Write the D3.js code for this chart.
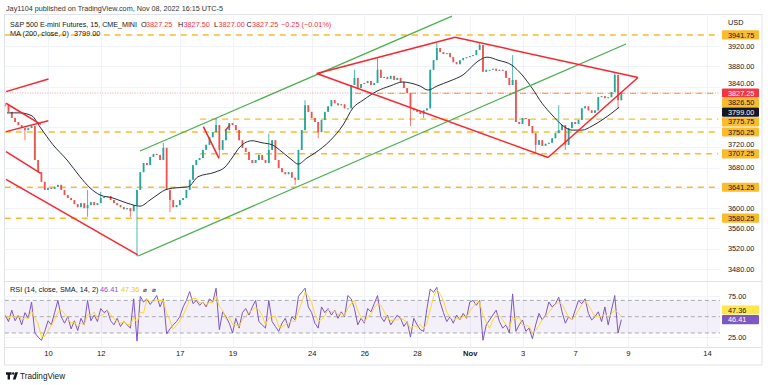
<!DOCTYPE html>
<html><head><meta charset="utf-8">
<script src="https://cdn.jsdelivr.net/npm/d3@7"></script>
<style>
body{margin:0;background:#fff}
svg{display:block;font-family:"Liberation Sans",Arial,sans-serif}
</style>
</head><body>
<svg id="c" width="768" height="385"></svg>
<script>
// ---------------- DATA ----------------
const startDay = -1.625, barStep = 0.125; // trading-day index (Oct 10 = 0), 3h buckets
const closes = [
3803,3790,3778,3770,3764,3758,3754,3758,3762,3695,
3671,3652,3636,3640,3638,3642,3646,3636,3626,3620,
3616,3608,3602,3610,3600,3606,3612,3606,3610,3620,
3622,3624,3616,3610,3606,3602,3598,3600,3594,3606,
3636,3671,3689,3685,3701,3707,3705,3695,3719,3636,
3616,3602,3606,3616,3620,3636,3656,3685,3695,3699,
3715,3725,3740,3750,3764,3715,3734,3754,3768,3764,
3754,3734,3719,3711,3695,3689,3695,3705,3695,3689,
3715,3734,3695,3679,3671,3667,3671,3660,3656,3715,
3754,3803,3790,3778,3770,3750,3774,3790,3801,3813,
3807,3803,3805,3797,3797,3843,3857,3837,3845,3847,
3851,3843,3847,3873,3857,3859,3855,3861,3853,3857,
3849,3837,3827,3797,3793,3790,3786,3793,3797,3873,
3892,3916,3908,3904,3906,3898,3888,3884,3892,3896,
3898,3900,3902,3912,3922,3869,3873,3873,3875,3871,
3873,3871,3857,3843,3853,3770,3766,3778,3776,3762,
3748,3725,3734,3723,3727,3729,3738,3748,3754,3764,
3725,3758,3770,3766,3774,3797,3801,3793,3788,3793,
3819,3821,3817,3819,3829,3863,3813,3827.25
];
// [day, high, low] extreme wicks
const spikes = [
[-1.625,3807,null],[-0.875,null,3734],[1.5,3636,3583],[2.0,3632,null],[3.125,null,3583],
[3.375,null,3505],[4.375,3729,null],[4.625,null,3592],[6.375,3778,null],[6.5,null,3701],
[8.375,3747,null],[9.375,null,3646],[9.75,3813,null],[10.25,null,3738],[11.625,3873,null],
[12.5,3896,null],[13.75,null,3762],[14.25,null,3778],[14.75,3926,null],[16.375,3926,null],
[17.625,3902,null],[18.5,null,3709],[19.375,3803,null],[19.625,null,3715],[21.5,3867,null],
[21.625,null,3797]
];
const maDays = [-1.556,-1.062,-0.607,-0.303,0.190,0.721,1.214,1.593,1.973,2.466,2.997,3.490,3.869,4.249,4.439,4.818,5.311,5.690,6.335,6.715,6.980,7.284,7.739,8.118,8.498,8.877,9.256,9.484,9.825,10.129,10.698,11.191,11.571,11.950,12.481,12.974,13.467,13.733,14.112,14.416,14.757,15.250,15.744,16.313,16.654,17.071,17.602,17.982,18.361,18.741,19.120,19.499,19.879,20.258,20.637,21.017,21.396,21.662];
const maValues = [3788,3788,3782,3760,3725,3695,3662,3640,3626,3620,3610,3604,3616,3630,3636,3640,3642,3662,3671,3681,3699,3721,3733,3729,3725,3711,3695,3687,3699,3709,3733,3764,3798,3813,3831,3841,3849,3847,3841,3833,3841,3851,3863,3890,3898,3892,3882,3863,3837,3807,3784,3764,3754,3754,3762,3774,3788,3799];
const rsiValues = [
52,44,58,45,52,40,55,48,68,30,
25,21,32,45,40,55,70,50,42,50,
35,45,33,48,40,70,45,52,44,60,
55,58,45,40,48,38,44,40,36,72,
20,75,68,72,65,70,76,62,72,29,
35,40,44,50,62,70,81,66,70,64,
68,62,72,68,85,34,56,50,42,30,
48,36,55,60,52,62,70,44,40,36,
70,44,38,32,42,48,36,50,46,75,
80,85,62,55,42,36,62,55,60,52,
58,48,56,50,76,72,60,40,48,42,
60,56,66,76,50,44,52,40,46,52,
48,38,44,25,48,40,34,32,60,84,
80,86,68,55,44,50,42,52,46,54,
48,68,70,64,70,21,40,46,52,58,
44,36,40,30,78,32,40,46,32,36,
23,40,54,46,52,68,62,66,74,56,
42,50,46,58,70,66,72,54,46,50,
56,44,62,40,58,76,30,46.41
];
const timeTickDays = [0,2,5,7,10,12,14,16,18,20,22,25];
const timeTickLabels = ["10","12","17","19","24","26","28","Nov","3","7","9","14"];
const priceTicks = [3480,3520,3560,3600,3640,3680,3720,3760,3800,3840,3880,3920];
const rsiTicks = [25,50,75];
const levelPrices = [3941.75,3826.50,3775.75,3750.25,3707.25,3641.25,3580.25];
const levelStartDays = [-1.64,11.65,5.77,-1.64,5.77,-1.64,-1.64];
const redLines = [
[[-1.593,3830],[0.019,3855]],
[[-1.593,3807],[-0.277,3765.5]],
[[-1.593,3751],[0.011,3772.6]],
[[-1.593,3711.5],[-0.277,3668.8]],
[[-1.593,3657],[3.403,3508]],
[[5.892,3760.8],[6.487,3698.4]],
[[6.715,3752.9],[6.904,3764.1]],
[[10.193,3865.7],[15.440,3937.2]],
[[15.440,3937.2],[22.382,3857.8]],
[[10.193,3865.7],[18.968,3700]],
[[18.968,3700],[22.382,3857.8]]
];
const greenLines = [
[[3.490,3712.8],[15.326,3979]],
[[3.414,3505.6],[21.927,3923.9]]
];
const lastPrice = 3827.25, maLast = 3799.00, rsiLast = 46.41, rsiSmaLast = 47.36;
const ohlc = [["O","3827.25"],["H","3827.50"],["L","3827.00"],["C","3827.25"]];
const changeText = "\u22120.25 (\u22120.01%)";

// ---------------- SETUP ----------------
const svg = d3.select("#c");
const L = 4.8, R = 720.2, T = 14, MB = 281, RT = 282, RB = 347;
const x = d3.scaleLinear().domain([-1.64,25.5]).range([L,R]);
const y = d3.scaleLinear().domain([3456.3,3983.1]).range([MB,T]);
const yr = d3.scaleLinear().domain([12.8,92.6]).range([RB,RT]);

const defs = svg.append("defs");
defs.append("clipPath").attr("id","cm").append("rect").attr("x",L).attr("y",T).attr("width",R-L).attr("height",MB-T);
defs.append("clipPath").attr("id","cr").append("rect").attr("x",L).attr("y",RT).attr("width",R-L).attr("height",RB-RT);

// frame
svg.append("rect").attr("x",4.5).attr("y",14.5).attr("width",757.5).attr("height",350.5)
  .attr("fill","none").attr("stroke","#e0e3eb").attr("stroke-width",1);

// grid
const grid = svg.append("g").attr("stroke","#f0f3fa").attr("stroke-width",1);
grid.selectAll(".hg").data(priceTicks).join("line")
  .attr("x1",L).attr("x2",R).attr("y1",d=>Math.round(y(d))+0.5).attr("y2",d=>Math.round(y(d))+0.5);
grid.selectAll(".vg").data(timeTickDays).join("line")
  .attr("y1",T).attr("y2",RB).attr("x1",d=>Math.round(x(d))+0.5).attr("x2",d=>Math.round(x(d))+0.5);
grid.selectAll(".rg").data([75,25]).join("line")
  .attr("x1",L).attr("x2",R).attr("y1",d=>Math.round(yr(d))+0.5).attr("y2",d=>Math.round(yr(d))+0.5);

// separators
svg.append("line").attr("x1",4.5).attr("x2",762).attr("y1",281.5).attr("y2",281.5).attr("stroke","#e0e3eb");
svg.append("line").attr("x1",4.5).attr("x2",762).attr("y1",347.5).attr("y2",347.5).attr("stroke","#e0e3eb");

// ---------------- MAIN PANE ----------------
const main = svg.append("g").attr("clip-path","url(#cm)");

// horizontal levels
main.selectAll(".lvl").data(levelPrices).join("line")
  .attr("x1",(d,i)=>x(levelStartDays[i])).attr("x2",R-2)
  .attr("y1",d=>y(d)).attr("y2",d=>y(d))
  .attr("stroke","#f9bc2f").attr("stroke-width",1.4).attr("stroke-dasharray","6,5");

// last price dotted line
main.append("line").attr("x1",L).attr("x2",R).attr("y1",y(lastPrice)).attr("y2",y(lastPrice))
  .attr("stroke","#f23645").attr("stroke-width",0.8).attr("stroke-dasharray","1,1.5").attr("opacity",0.6);

// bars
const bars = closes.map((c,i)=>({d:startDay+i*barStep,c,o:i?closes[i-1]:c,h:-Infinity,l:Infinity}));
spikes.forEach(([d,hi,lo])=>{
  const i=Math.round((d-startDay)/barStep);
  if(bars[i]){ if(hi!=null) bars[i].h=hi; if(lo!=null) bars[i].l=lo; }
});
bars.forEach(b=>{b.h=Math.max(b.h,b.o,b.c); b.l=Math.min(b.l,b.o,b.c); b.up=b.c>=b.o;});
const upC="#26a69a", dnC="#ef5350";
main.selectAll(".wk").data(bars).join("line")
  .attr("x1",b=>x(b.d)).attr("x2",b=>x(b.d)).attr("y1",b=>y(b.h)).attr("y2",b=>y(b.l))
  .attr("stroke",b=>b.up?upC:dnC).attr("stroke-width",0.8);
main.selectAll(".bd").data(bars).join("rect")
  .attr("x",b=>x(b.d)-0.9).attr("width",1.8)
  .attr("y",b=>Math.min(y(b.o),y(b.c)))
  .attr("height",b=>Math.max(1,Math.abs(y(b.o)-y(b.c))))
  .attr("fill",b=>b.up?upC:dnC);

// MA
const maPts = maDays.map((d,i)=>[d,maValues[i]]);
main.append("path").datum(maPts)
  .attr("d",d3.line().x(p=>x(p[0])).y(p=>y(p[1])).curve(d3.curveMonotoneX))
  .attr("fill","none").attr("stroke","#2a2e39").attr("stroke-width",1);

// trend lines
const seg = d3.line().x(p=>x(p[0])).y(p=>y(p[1]));
main.selectAll(".gl").data(greenLines).join("path").attr("d",seg)
  .attr("fill","none").attr("stroke","#4caf50").attr("stroke-width",1.3);
main.selectAll(".rl").data(redLines).join("path").attr("d",seg)
  .attr("fill","none").attr("stroke","#f7262e").attr("stroke-width",1.5);

// ---------------- RSI PANE ----------------
const rp = svg.append("g").attr("clip-path","url(#cr)");
rp.append("rect").attr("x",L).attr("width",R-L).attr("y",yr(70)).attr("height",yr(30)-yr(70))
  .attr("fill","#7e57c2").attr("fill-opacity",0.09);
rp.selectAll(".rb").data([70,50,30]).join("line")
  .attr("x1",L).attr("x2",R).attr("y1",d=>yr(d)).attr("y2",d=>yr(d))
  .attr("stroke","#9598a1").attr("stroke-width",0.8).attr("stroke-dasharray","4,3");
const rsiPts = rsiValues.map((v,i)=>[startDay+i*barStep,v]);
const smaPts = rsiPts.map((p,i)=>{const w=rsiValues.slice(Math.max(0,i-2),i+1);return [p[0],d3.mean(w)];});
const rl = d3.line().x(p=>x(p[0])).y(p=>yr(p[1]));
rp.append("path").datum(rsiPts).attr("d",rl).attr("fill","none").attr("stroke","#7e57c2").attr("stroke-width",1);
rp.append("path").datum(smaPts).attr("d",rl).attr("fill","none").attr("stroke","#fdd835").attr("stroke-width",1);

// ---------------- AXES ----------------
const fs = 7.3;
function placeBadges(items, primaryIdx, h){
  const prim = items[primaryIdx];
  const below = items.filter(b=>b!==prim && b.y>=prim.y).sort((a,b)=>a.y-b.y);
  const above = items.filter(b=>b!==prim && b.y<prim.y).sort((a,b)=>b.y-a.y);
  let cur = prim.y;
  below.forEach(b=>{ if(b.y<cur+h) b.y=cur+h; cur=b.y; });
  cur = prim.y;
  above.forEach(b=>{ if(b.y>cur-h) b.y=cur-h; cur=b.y; });
  return items;
}
const priceBadges = [
  {v:lastPrice, bg:"#f23645", fg:"#fff"},
  ...levelPrices.map(v=>({v, bg:"#f9bc2f", fg:"#131722"})),
  {v:maLast, bg:"#131722", fg:"#fff"}
].map(b=>({...b,y:y(b.v)}));
placeBadges(priceBadges,0,9.6);
const rsiBadges = [
  {v:rsiLast,bg:"#7e57c2",fg:"#fff"},
  {v:rsiSmaLast,bg:"#fde74c",fg:"#131722"}
].map(b=>({...b,y:yr(b.v)}));
placeBadges(rsiBadges,0,9.6);

// axis label layout: hide labels under a badge, nudge labels that touch one
function labelY(py, badgeYs){
  let nearest = null;
  badgeYs.forEach(by=>{ if(nearest===null || Math.abs(by-py)<Math.abs(nearest-py)) nearest=by; });
  if(nearest===null) return {show:true,y:py};
  const dist = Math.abs(nearest-py);
  if(dist<6) return {show:false,y:py};
  if(dist<9.6) return {show:true,y: py<nearest ? nearest-9.6 : nearest+9.6};
  return {show:true,y:py};
}
function drawAxisLabels(ticks, scale, badgeYs){
  const g = svg.append("g");
  ticks.forEach(t=>{
    const r = labelY(scale(t), badgeYs);
    if(!r.show) return;
    g.append("text").attr("x",728).attr("y",r.y+2.6).attr("font-size",fs).attr("fill","#131722").text(d3.format(".2f")(t));
  });
}
drawAxisLabels(priceTicks, y, priceBadges.map(b=>b.y));
drawAxisLabels(rsiTicks, yr, rsiBadges.map(b=>b.y));

function drawBadges(list){
  const g = svg.append("g");
  list.forEach(b=>{
    g.append("rect").attr("x",722).attr("y",b.y-4.6).attr("width",37).attr("height",9.2).attr("rx",1).attr("fill",b.bg);
    g.append("text").attr("x",728).attr("y",b.y+2.6).attr("font-size",fs).attr("fill",b.fg).text(b.v.toFixed(2));
  });
}
drawBadges(priceBadges);
drawBadges(rsiBadges);

svg.append("text").attr("x",728).attr("y",24.5).attr("font-size",fs).attr("fill","#131722").text("USD");

// time axis
const xa = svg.append("g").attr("transform","translate(0,351)")
  .call(d3.axisBottom(x).tickValues(timeTickDays).tickFormat((d,i)=>timeTickLabels[i]).tickSize(0).tickPadding(0));
xa.select(".domain").remove();
xa.selectAll("text").attr("font-size",7.6).attr("fill","#131722").attr("font-family","Liberation Sans, Arial, sans-serif")
  .attr("dy","0.71em").attr("font-weight",(d,i)=>timeTickLabels[i]==="Nov"?"bold":null);

// ---------------- TEXT ----------------
svg.append("text").attr("x",6).attr("y",11).attr("font-size",7.2).attr("fill","#333")
  .attr("textLength",217).attr("lengthAdjust","spacingAndGlyphs")
  .text("Jay1104 published on TradingView.com, Nov 08, 2022 16:15 UTC-5");
svg.append("text").attr("x",10).attr("y",27).attr("font-size",fs).attr("fill","#131722")
  .attr("textLength",127).attr("lengthAdjust","spacingAndGlyphs")
  .text("S&P 500 E-mini Futures, 15, CME_MINI");
const ohlcX = [[141,146],[178,183.5],[214,218.5],[246.5,252]];
ohlc.forEach(([k,v],i)=>{
  svg.append("text").attr("x",ohlcX[i][0]).attr("y",27).attr("font-size",fs).attr("fill","#131722").text(k);
  svg.append("text").attr("x",ohlcX[i][1]).attr("y",27).attr("font-size",fs).attr("fill","#f23645").text(v);
});
svg.append("text").attr("x",281).attr("y",27).attr("font-size",fs).attr("fill","#f23645").text(changeText);
svg.append("text").attr("x",10).attr("y",36.3).attr("font-size",fs).attr("fill","#131722").text("MA (200, close, 0)");
svg.append("text").attr("x",74).attr("y",36.3).attr("font-size",fs).attr("fill","#131722").text(maLast.toFixed(2));

svg.append("text").attr("x",10).attr("y",292).attr("font-size",fs).attr("fill","#131722").text("RSI (14, close, SMA, 14, 2)");
svg.append("text").attr("x",100).attr("y",292).attr("font-size",fs).attr("fill","#7e57c2").text(rsiLast.toFixed(2));
svg.append("text").attr("x",121).attr("y",292).attr("font-size",fs).attr("fill","#f5c518").text(rsiSmaLast.toFixed(2));
svg.append("text").attr("x",143).attr("y",292).attr("font-size",6.5).attr("fill","#131722").attr("font-family","DejaVu Sans").text("\u2300");
svg.append("text").attr("x",152).attr("y",292).attr("font-size",6.5).attr("fill","#131722").attr("font-family","DejaVu Sans").text("\u2300");

// logo
const lg = svg.append("g").attr("fill","#131722");
lg.append("path").attr("d","M6,372.3h5.6v2.4h-1.6v4.8h-2.4v-4.8h-1.6z");
lg.append("circle").attr("cx",13.2).attr("cy",373.5).attr("r",1.2);
lg.append("path").attr("d","M15.2,372.3h2.8l-2.4,7.2h-2.8z");
svg.append("text").attr("x",20).attr("y",379).attr("font-size",8.2).attr("fill","#131722").text("TradingView");
</script>
</body></html>
